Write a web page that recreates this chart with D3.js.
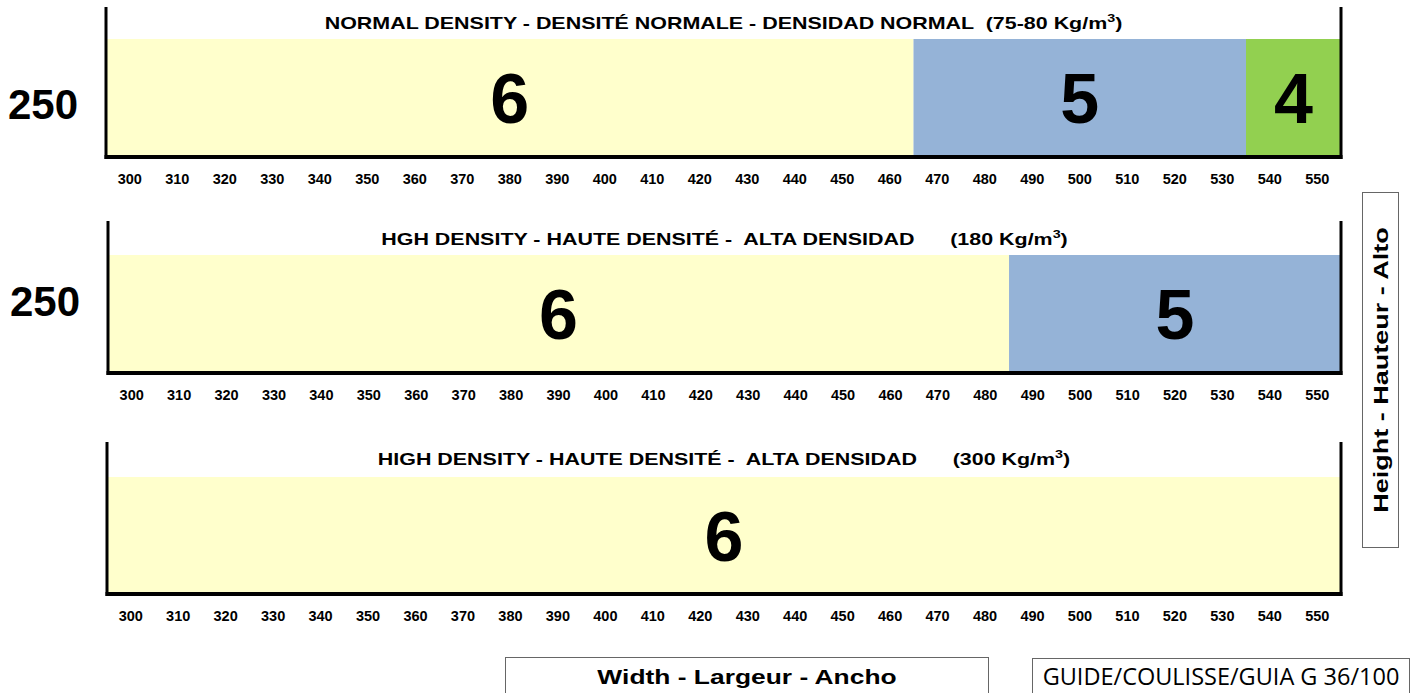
<!DOCTYPE html>
<html>
<head>
<meta charset="utf-8">
<script src="https://cdn.jsdelivr.net/npm/d3@7"></script>
<style>
  body { margin: 0; background: #fff; }
  text { font-family: "Liberation Sans", Arial, sans-serif; }
</style>
</head>
<body>
<div id="chart"></div>
<script>
// widths (cm) along the bottom of every panel
const widths = ["300", "310", "320", "330", "340", "350", "360", "370", "380", "390",
  "400", "410", "420", "430", "440", "450", "460", "470", "480", "490",
  "500", "510", "520", "530", "540", "550"];

const titles = [
  "NORMAL DENSITY - DENSITÉ NORMALE - DENSIDAD NORMAL  ",
  "HGH DENSITY - HAUTE DENSITÉ -  ALTA DENSIDAD      ",
  "HIGH DENSITY - HAUTE DENSITÉ -  ALTA DENSIDAD      "
];
const densities = ["(75-80 Kg/m", "(180 Kg/m", "(300 Kg/m"];
const heights = ["250", "250", ""];

// number of guides per width range
const normalSegments = [
  { from: "300", to: "460", guides: 6 },
  { from: "470", to: "530", guides: 5 },
  { from: "540", to: "550", guides: 4 }
];
const highSegments = [
  { from: "300", to: "480", guides: 6 },
  { from: "490", to: "550", guides: 5 }
];
const veryHighSegments = [
  { from: "300", to: "550", guides: 6 }
];
const segmentsByPanel = [normalSegments, highSegments, veryHighSegments];

const color = d3.scaleOrdinal()
  .domain([6, 5, 4])
  .range(["#FFFFCC", "#95B3D7", "#92D050"]);

const W = 1412, H = 693;
const svg = d3.select("#chart").append("svg")
  .attr("width", W).attr("height", H);

// panel layout
const panels = [
  { left: 106, right: 1341, lineTop: 7, fillTop: 39, bottom: 157, titleY: 29, hy: 104, hx: 43 },
  { left: 108, right: 1341, lineTop: 221, fillTop: 255, bottom: 373, titleY: 245, hy: 301, hx: 45 },
  { left: 107, right: 1341, lineTop: 442, fillTop: 477, bottom: 594, titleY: 465, hy: 0, hx: 0 }
];

panels.forEach((p, i) => {
  const x = d3.scaleBand().domain(widths).range([p.left, p.right]).padding(0);
  const g = svg.append("g");
  const segs = segmentsByPanel[i];

  g.selectAll("rect.seg").data(segs).join("rect")
    .attr("class", "seg")
    .attr("x", d => x(d.from))
    .attr("y", p.fillTop)
    .attr("width", d => x(d.to) + x.bandwidth() - x(d.from))
    .attr("height", p.bottom - p.fillTop)
    .attr("fill", d => color(d.guides));

  g.selectAll("text.num").data(segs).join("text")
    .attr("class", "num")
    .attr("x", d => (x(d.from) + x(d.to) + x.bandwidth()) / 2)
    .attr("y", (p.fillTop + p.bottom) / 2 + 0.358 * 70)
    .attr("text-anchor", "middle")
    .attr("font-size", 70)
    .attr("font-weight", "bold")
    .text(d => d.guides);

  // frame: left, right, bottom lines
  g.append("line").attr("x1", p.left).attr("x2", p.left)
    .attr("y1", p.lineTop).attr("y2", p.bottom + 2)
    .attr("stroke", "#000").attr("stroke-width", 3);
  g.append("line").attr("x1", p.right).attr("x2", p.right)
    .attr("y1", p.lineTop).attr("y2", p.bottom + 2)
    .attr("stroke", "#000").attr("stroke-width", 3);
  g.append("line").attr("x1", p.left - 1.5).attr("x2", p.right + 1.5)
    .attr("y1", p.bottom).attr("y2", p.bottom)
    .attr("stroke", "#000").attr("stroke-width", 4);

  const axis = g.append("g")
    .attr("transform", "translate(0," + p.bottom + ")")
    .call(d3.axisBottom(x).tickSize(0).tickPadding(17));
  axis.select(".domain").remove();
  axis.selectAll("text")
    .attr("font-size", 14.5)
    .attr("font-weight", "bold")
    .attr("font-family", "Liberation Sans, Arial, sans-serif")
    .attr("fill", "#000");

  // title is stretched horizontally like the original
  const t = g.append("text")
    .attr("transform", "translate(" + ((p.left + p.right) / 2) + "," + p.titleY + ") scale(1.3,1)")
    .attr("text-anchor", "middle")
    .attr("font-size", 16.5)
    .attr("font-weight", "bold")
    .style("white-space", "pre");
  t.append("tspan").text(titles[i] + densities[i]);
  t.append("tspan").attr("font-size", 11).attr("dy", -7).text("3");
  t.append("tspan").attr("dy", 7).text(")");

  if (heights[i]) {
    g.append("text")
      .attr("x", p.hx).attr("y", p.hy + 15)
      .attr("text-anchor", "middle")
      .attr("font-size", 42)
      .attr("font-weight", "bold")
      .text(heights[i]);
  }
});

// vertical height label box
svg.append("rect").attr("x", 1362.5).attr("y", 192.5).attr("width", 36).attr("height", 355)
  .attr("fill", "#fff").attr("stroke", "#666").attr("stroke-width", 1);
svg.append("text")
  .attr("transform", "translate(1388,370) rotate(-90) scale(1.35,1)")
  .attr("text-anchor", "middle")
  .attr("font-size", 20)
  .attr("font-weight", "bold")
  .text("Height - Hauteur - Alto");

// width label box
svg.append("rect").attr("x", 505.5).attr("y", 657.5).attr("width", 483).attr("height", 40)
  .attr("fill", "#fff").attr("stroke", "#666").attr("stroke-width", 1);
svg.append("text")
  .attr("transform", "translate(747,684) scale(1.32,1)")
  .attr("text-anchor", "middle")
  .attr("font-size", 20)
  .attr("font-weight", "bold")
  .text("Width - Largeur - Ancho");

// guide reference box
svg.append("rect").attr("x", 1032.5).attr("y", 658.5).attr("width", 377).attr("height", 40)
  .attr("fill", "#fff").attr("stroke", "#666").attr("stroke-width", 1);
svg.append("text")
  .attr("x", 1221).attr("y", 685)
  .attr("text-anchor", "middle")
  .attr("font-size", 23.5)
  .style("font-family", "'Open Sans', sans-serif")
  .text("GUIDE/COULISSE/GUIA G 36/100");
</script>
</body>
</html>
